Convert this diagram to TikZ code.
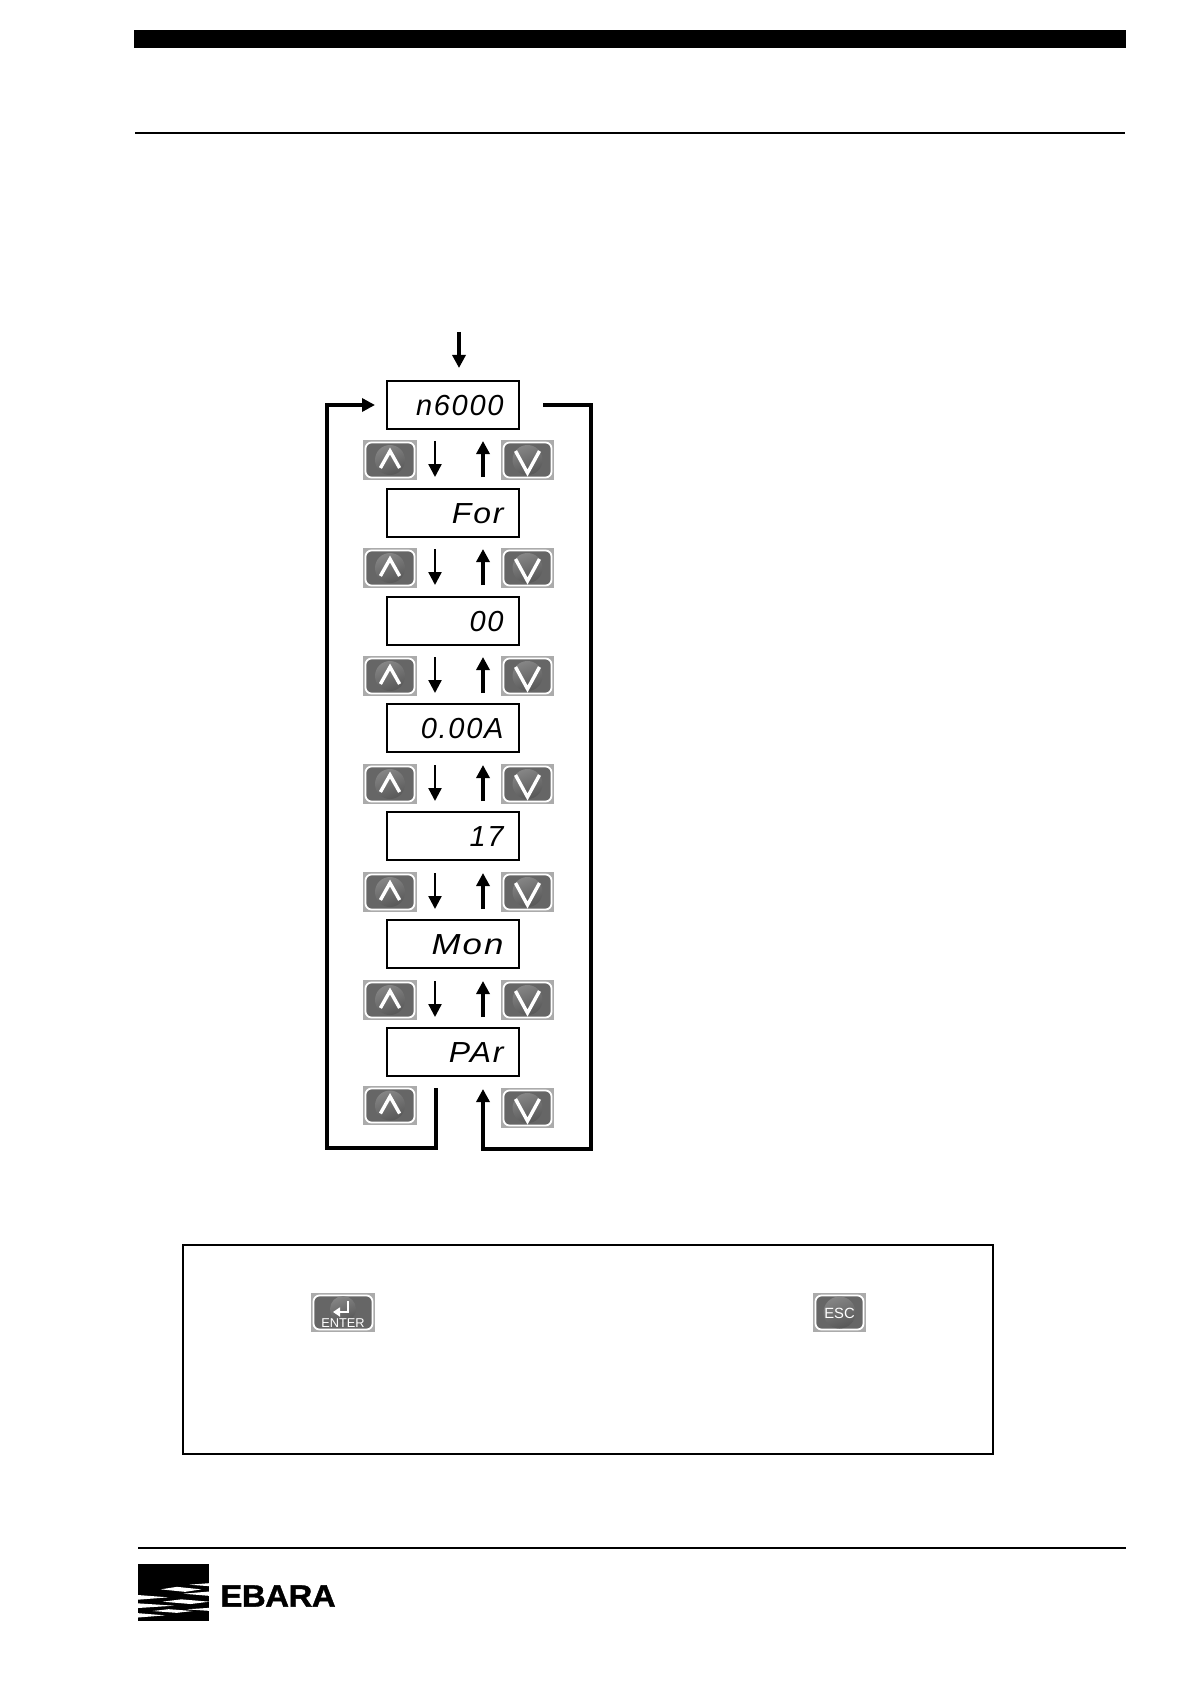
\documentclass[tikz,border=0pt]{standalone}
\usepackage{fontspec}
\setmainfont{Liberation Sans}
\newfontfamily\lcdfont[LetterSpace=6]{Liberation Sans}
\newfontfamily\logofont[BoldFeatures={FakeBold=1.2},LetterSpace=-1.5]{Liberation Sans}
\usetikzlibrary{arrows.meta}
\definecolor{btnback}{HTML}{ABABAB}
\definecolor{btnface}{HTML}{666666}
\definecolor{ballhi}{HTML}{858585}
\definecolor{balllo}{HTML}{585858}
\tikzset{
  lcdbox/.style={draw=black,line width=0.9pt,fill=white,minimum width=66pt,minimum height=24pt,inner sep=0pt,outer sep=0pt},
  lcdtext/.style={anchor=east,inner sep=0pt,font=\lcdfont\itshape\fontsize{14.5}{15}\selectfont},
  bighead/.style={-{Triangle[length=6.5pt,width=6.5pt]}},
  flowdown/.style={line width=1.2pt,bighead},
  flowup/.style={line width=1.6pt,bighead},
  loop/.style={line width=1.65pt,line join=miter,bighead},
  chev/.style={draw=white,line width=1.7pt,line join=miter},
  btnrim/.style={draw=white,line width=0.9pt,rounded corners=3pt,fill=btnface},
}
\newcommand{\btnbase}[5]{% name, x1, y1, x2, y2
  \node[fill=btnback,inner sep=0pt,outer sep=0pt,minimum width={(#4-#2)*0.5pt},minimum height={(#5-#3)*0.5pt}] (#1) at ({(#2+#4)/2},{(#3+#5)/2}) {};
  \draw[btnrim] (#2+2.5,#3+2.5) rectangle (#4-2.5,#5-2.5);
}
\newcommand{\btnup}[5]{\btnbase{#1}{#2}{#3}{#4}{#5}
  \shade[left color=ballhi,right color=balllo,shading angle=20] (#1.center) circle (15);
  \draw[chev] ([xshift=-4.8pt,yshift=-4pt]#1.center) -- ([yshift=4.5pt]#1.center) -- ([xshift=4.8pt,yshift=-4pt]#1.center);
}
\newcommand{\btndown}[5]{\btnbase{#1}{#2}{#3}{#4}{#5}
  \shade[left color=ballhi,right color=balllo,shading angle=20] (#1.center) circle (15);
  \draw[chev] ([xshift=-6pt,yshift=4.5pt]#1.center) -- ([yshift=-6.5pt]#1.center) -- ([xshift=6pt,yshift=4.5pt]#1.center);
}
\newcommand{\streak}[4]{\fill[white] (#1,#3) -- ({(#1*0.6+#2*0.4)},#3-#4/2) -- (#2,#3) -- ({(#1*0.4+#2*0.6)},#3+#4/2) -- cycle;}
\newcommand{\wedgeL}[4]{\fill[white] (#1,#3-#4/2) -- (#2,#3) -- (#1,#3+#4/2) -- cycle;}
\newcommand{\wedgeR}[4]{\fill[white] (#1,#3) -- (#2,#3-#4/2) -- (#2,#3+#4/2) -- cycle;}
\begin{document}
\begin{tikzpicture}[x=0.5pt,y=-0.5pt]
\useasboundingbox (0,0) rectangle (1191,1684);
\fill[white] (0,0) rectangle (1191,1684);
% header and footer
\fill[black] (134,30) rectangle (1126,48);
\draw[line width=1pt] (135,133) -- (1125,133);
\draw[line width=1pt] (138,1548) -- (1126,1548);

% displays
\foreach \nm/\yy/\tx/\sx in {a/405/n6000/1,b/513/For/1.1,c/621/00/1,d/728/0.00A/1,e/836/17/1,f/944/Mon/1.2,g/1052/PAr/1.1}{
  \node[lcdbox] (box\nm) at (453,\yy) {};
  \node[lcdtext,xscale=\sx] (txt\nm) at (504,\yy+1) {\tx};
}

% buttons and arrows between the displays
\foreach \nm/\yy in {a/440,b/548,c/656,d/764,e/872,f/980}{
  \btnup{up\nm}{363}{\yy}{417}{\yy+40}
  \btndown{dn\nm}{501}{\yy}{554}{\yy+40}
  \coordinate (ds\nm) at (435,\yy+1);
  \coordinate (de\nm) at (435,\yy+37);
  \coordinate (us\nm) at (483,\yy+37);
  \coordinate (ue\nm) at (483,\yy+1);
  \draw[flowdown] (ds\nm) -- (de\nm);
  \draw[flowup] (us\nm) -- (ue\nm);
}
\btnup{upg}{363}{1086}{417}{1125}
\btndown{dng}{501}{1088}{554}{1128}

% entry arrow
\coordinate (entry) at (459,332);
\coordinate (entryend) at (459,368);
\draw[flowup] (entry) -- (entryend);

% loop lines
\coordinate (ll0) at (436,1088);
\coordinate (ll1) at (436,1148);
\coordinate (ll2) at (327,1148);
\coordinate (ll3) at (327,405);
\coordinate (ll4) at (375,405);
\draw[loop] (ll0) -- (ll1) -- (ll2) -- (ll3) -- (ll4);
\coordinate (rl0) at (543,405);
\coordinate (rl1) at (591,405);
\coordinate (rl2) at (591,1149);
\coordinate (rl3) at (483,1149);
\coordinate (rl4) at (483,1089);
\draw[loop] (rl0) -- (rl1) -- (rl2) -- (rl3) -- (rl4);

% note frame
\draw[line width=0.55pt] (183,1245) rectangle (993,1454);
% ENTER button
\node[fill=btnback,inner sep=0pt,outer sep=0pt,minimum width=32pt,minimum height=19.5pt] (enter) at (343,1312.5) {};
\draw[btnrim] (313.5,1295.5) rectangle (372.5,1329.5);
\shade[left color=ballhi,right color=balllo,shading angle=20] (343,1309) circle (13);
\draw[white,line width=1.1pt,-{Triangle[length=3.5pt,width=4.5pt]}] (348,1301) -- (348,1312) -- (333,1312);
\node[text=white,inner sep=0pt,font=\fontsize{6.4}{8}\selectfont] (entertxt) at (343,1323.5) {ENTER};
% ESC button
\node[fill=btnback,inner sep=0pt,outer sep=0pt,minimum width=26.5pt,minimum height=19.5pt] (esc) at (839.5,1312.5) {};
\draw[btnrim] (815.5,1295.5) rectangle (863.5,1329.5);
\shade[left color=ballhi,right color=balllo,shading angle=20] (839.5,1312.5) circle (16);
\node[text=white,inner sep=0pt,font=\fontsize{7.4}{8}\selectfont] (esctxt) at (839.5,1313) {ESC};

% logo
\fill[black] (138,1564) rectangle (209,1621);
\begin{scope}[shift={(130,1550)},x=0.16667pt,y=-0.16667pt]
  \wedgeR{178}{238}{104}{9}
  \streak{92}{214}{118}{15}
  \wedgeR{160}{238}{131}{13}
  \wedgeL{24}{115}{142}{14}
  \streak{98}{238}{155}{14}
  \wedgeL{24}{132}{167}{14}
  \wedgeR{170}{238}{178}{9}
  \streak{68}{188}{183}{11}
  \wedgeL{24}{105}{196}{13}
\end{scope}
\node[anchor=west,inner sep=0pt,xscale=1.07,font=\logofont\bfseries\fontsize{15.4}{16}\selectfont] (ebara) at (220,1596) {EBARA};
\end{tikzpicture}
\end{document}
